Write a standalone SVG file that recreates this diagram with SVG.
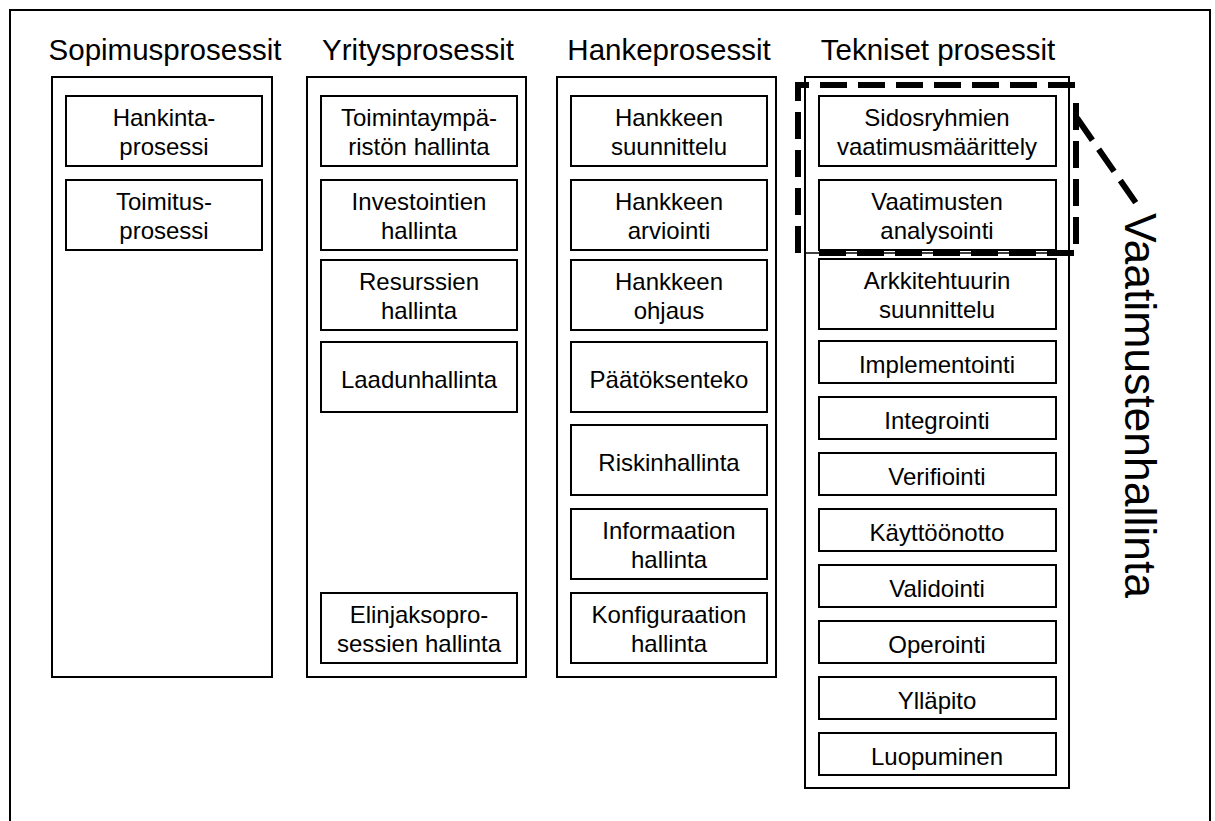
<svg xmlns="http://www.w3.org/2000/svg" width="1215" height="821" viewBox="0 0 1215 821">
<style>
  .frame{fill:#fff;stroke:#000;stroke-width:2}
  .col{fill:#fff;stroke:#000;stroke-width:2}
  .box{fill:#fff;stroke:#000;stroke-width:2}
  .hdr{font-family:"Liberation Sans",Arial,sans-serif;font-size:29.5px;fill:#000;text-anchor:middle}
  .lbl{font-family:"Liberation Sans",Arial,sans-serif;font-size:24px;fill:#000;text-anchor:middle}
  .big{font-family:"Liberation Sans",Arial,sans-serif;font-size:44.5px;fill:#000}
  .dash{fill:none;stroke:#000;stroke-width:6;stroke-dasharray:27 11}
</style>
<rect x="0" y="0" width="1215" height="821" fill="#fff"/>
<rect class="frame" x="10" y="10" width="1200" height="830"/>

<g id="col-sopimus">
  <rect class="col" x="52" y="77" width="220" height="600"/>
  <text class="hdr" x="165" y="60">Sopimusprosessit</text>
  <g id="hankinta"><rect class="box" x="66" y="96" width="196" height="70"/><text class="lbl" x="164" y="126">Hankinta-</text><text class="lbl" x="164" y="155">prosessi</text></g>
  <g id="toimitus"><rect class="box" x="66" y="180" width="196" height="70"/><text class="lbl" x="164" y="210">Toimitus-</text><text class="lbl" x="164" y="239">prosessi</text></g>
</g>

<g id="col-yritys">
  <rect class="col" x="307" y="77" width="219" height="600"/>
  <text class="hdr" x="418" y="60">Yritysprosessit</text>
  <g id="toimintaymparisto"><rect class="box" x="321" y="96" width="196" height="70"/><text class="lbl" x="419" y="126">Toimintaympä-</text><text class="lbl" x="419" y="155">ristön hallinta</text></g>
  <g id="investoinnit"><rect class="box" x="321" y="180" width="196" height="70"/><text class="lbl" x="419" y="210">Investointien</text><text class="lbl" x="419" y="239">hallinta</text></g>
  <g id="resurssit"><rect class="box" x="321" y="260" width="196" height="70"/><text class="lbl" x="419" y="290">Resurssien</text><text class="lbl" x="419" y="319">hallinta</text></g>
  <g id="laatu"><rect class="box" x="321" y="342" width="196" height="70"/><text class="lbl" x="419" y="388">Laadunhallinta</text></g>
  <g id="elinjakso"><rect class="box" x="321" y="593" width="196" height="70"/><text class="lbl" x="419" y="623">Elinjaksopro-</text><text class="lbl" x="419" y="652">sessien hallinta</text></g>
</g>

<g id="col-hanke">
  <rect class="col" x="557" y="77" width="219" height="600"/>
  <text class="hdr" x="669" y="60">Hankeprosessit</text>
  <g id="suunnittelu"><rect class="box" x="571" y="96" width="196" height="70"/><text class="lbl" x="669" y="126">Hankkeen</text><text class="lbl" x="669" y="155">suunnittelu</text></g>
  <g id="arviointi"><rect class="box" x="571" y="180" width="196" height="70"/><text class="lbl" x="669" y="210">Hankkeen</text><text class="lbl" x="669" y="239">arviointi</text></g>
  <g id="ohjaus"><rect class="box" x="571" y="260" width="196" height="70"/><text class="lbl" x="669" y="290">Hankkeen</text><text class="lbl" x="669" y="319">ohjaus</text></g>
  <g id="paatoksenteko"><rect class="box" x="571" y="342" width="196" height="70"/><text class="lbl" x="669" y="388">Päätöksenteko</text></g>
  <g id="riski"><rect class="box" x="571" y="425" width="196" height="70"/><text class="lbl" x="669" y="471">Riskinhallinta</text></g>
  <g id="informaatio"><rect class="box" x="571" y="509" width="196" height="70"/><text class="lbl" x="669" y="539">Informaation</text><text class="lbl" x="669" y="568">hallinta</text></g>
  <g id="konfiguraatio"><rect class="box" x="571" y="593" width="196" height="70"/><text class="lbl" x="669" y="623">Konfiguraation</text><text class="lbl" x="669" y="652">hallinta</text></g>
</g>

<g id="col-tekniset">
  <rect class="col" x="805" y="77" width="264" height="711"/>
  <text class="hdr" x="938" y="60">Tekniset prosessit</text>
  <g id="sidosryhmat"><rect class="box" x="819" y="96" width="237" height="70"/><text class="lbl" x="937" y="126">Sidosryhmien</text><text class="lbl" x="937" y="155">vaatimusmäärittely</text></g>
  <g id="analysointi"><rect class="box" x="819" y="180" width="237" height="70"/><text class="lbl" x="937" y="210">Vaatimusten</text><text class="lbl" x="937" y="239">analysointi</text></g>
  <g id="arkkitehtuuri"><rect class="box" x="819" y="259" width="237" height="70"/><text class="lbl" x="937" y="289">Arkkitehtuurin</text><text class="lbl" x="937" y="318">suunnittelu</text></g>
  <g id="implementointi"><rect class="box" x="819" y="341" width="237" height="42"/><text class="lbl" x="937" y="373">Implementointi</text></g>
  <g id="integrointi"><rect class="box" x="819" y="397" width="237" height="42"/><text class="lbl" x="937" y="429">Integrointi</text></g>
  <g id="verifiointi"><rect class="box" x="819" y="453" width="237" height="42"/><text class="lbl" x="937" y="485">Verifiointi</text></g>
  <g id="kayttoonotto"><rect class="box" x="819" y="509" width="237" height="42"/><text class="lbl" x="937" y="541">Käyttöönotto</text></g>
  <g id="validointi"><rect class="box" x="819" y="565" width="237" height="42"/><text class="lbl" x="937" y="597">Validointi</text></g>
  <g id="operointi"><rect class="box" x="819" y="621" width="237" height="42"/><text class="lbl" x="937" y="653">Operointi</text></g>
  <g id="yllapito"><rect class="box" x="819" y="677" width="237" height="42"/><text class="lbl" x="937" y="709">Ylläpito</text></g>
  <g id="luopuminen"><rect class="box" x="819" y="733" width="237" height="42"/><text class="lbl" x="937" y="765">Luopuminen</text></g>
</g>

<g id="connectors">
  <line x1="806" y1="253" x2="1069" y2="253" stroke="#000" stroke-width="1.5"/>
  <path class="dash" d="M798,253 V85 H1077 M1076,103 V253 H812"/>
  <path class="dash" d="M1077,118 L1136,203"/>
</g>

<g id="vaatimustenhallinta">
  <text class="big" transform="translate(1125,213) rotate(90)">Vaatimustenhallinta</text>
</g>
</svg>
